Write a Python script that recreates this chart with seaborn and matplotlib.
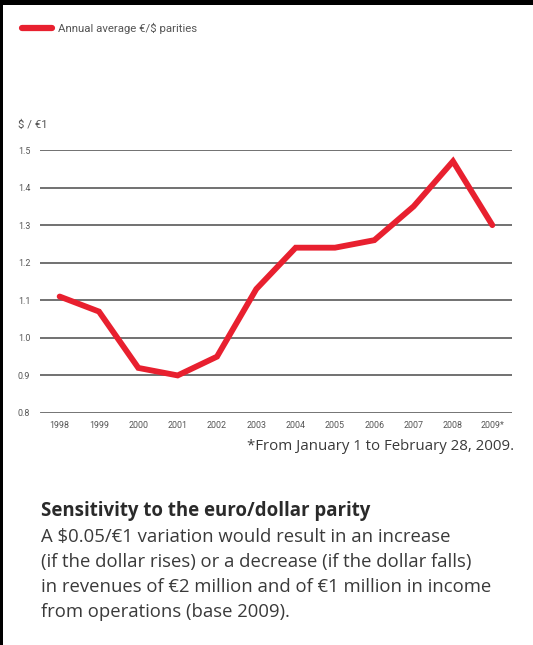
import matplotlib
matplotlib.use("Agg")
import matplotlib.pyplot as plt
import seaborn as sns
import pandas as pd
from matplotlib.patches import Rectangle

years = ["1998", "1999", "2000", "2001", "2002", "2003", "2004", "2005",
         "2006", "2007", "2008", "2009*"]
parity = [1.11, 1.07, 0.92, 0.90, 0.95, 1.13, 1.24, 1.24, 1.26, 1.35, 1.47, 1.30]
y_ticks = [0.8, 0.9, 1.0, 1.1, 1.2, 1.3, 1.4, 1.5]
y_tick_labels = ["0.8", "0.9", "1.0", "1.1", "1.2", "1.3", "1.4", "1.5"]

series_label = "Annual average €/$ parities"
unit_label = "$ / €1"
footnote = "*From January 1 to February 28, 2009."
heading = "Sensitivity to the euro/dollar parity"
body_lines = [
    "A $0.05/€1 variation would result in an increase",
    "(if the dollar rises) or a decrease (if the dollar falls)",
    "in revenues of €2 million and of €1 million in income",
    "from operations (base 2009).",
]

RED = "#e8202f"
GRID = "#4a4a4a"
TEXT = "#3a3a3a"

sns.set_theme(style="white")
plt.rcParams["font.family"] = ["Roboto", "DejaVu Sans"]
BLOCK_FONT = ["Open Sans", "DejaVu Sans"]

df = pd.DataFrame({"year": years, "parity": parity})
df["pos"] = range(len(years))

fig = plt.figure(figsize=(5.33, 6.45), dpi=100)
ax = fig.add_axes([0.075, 1 - 413 / 645, 0.9606 - 0.075, (413 - 150) / 645])

for yv in y_ticks:
    ax.axhline(yv, color=GRID, lw=1.8 if yv == y_ticks[0] else 1.1, zorder=1)

sns.lineplot(data=df, x="pos", y="parity", color=RED, lw=4.2, ax=ax,
             zorder=3, solid_capstyle="round", solid_joinstyle="miter")

ax.set_xlim(-0.5, len(years) - 0.5)
ax.set_ylim(0.8, 1.5)
ax.set_xticks(df["pos"])
ax.set_xticklabels(years)
ax.set_yticks(y_ticks)
ax.set_yticklabels(y_tick_labels)
ax.tick_params(axis="both", length=0, labelsize=6.4, labelcolor="#555555")
ax.tick_params(axis="x", pad=6)
ax.tick_params(axis="y", pad=7)
ax.set_xlabel("")
ax.set_ylabel("")
for s in ax.spines.values():
    s.set_visible(False)
ax.grid(False)

# unit label above the axis
fig.text(18 / 533, 1 - 125 / 645, unit_label, fontsize=8.2, color="#555555",
         va="center", ha="left")

# legend swatch and label
fig.add_artist(plt.Line2D([22 / 533, 52 / 533], [1 - 28 / 645] * 2,
                          color=RED, lw=4.5, solid_capstyle="round"))
fig.text(58 / 533, 1 - 28 / 645, series_label, fontsize=8.2, color="#555555",
         va="center", ha="left")

# footnote
fig.text(514 / 533, 1 - 447 / 645, footnote, fontsize=10.8, color=TEXT,
         va="center", ha="right", family=BLOCK_FONT)

# explanatory text block
fig.text(41 / 533, 1 - 511 / 645, heading, fontsize=13.4, color="#2a2a2a",
         fontweight="bold", va="center", ha="left", family=BLOCK_FONT)
for i, line in enumerate(body_lines):
    fig.text(41 / 533, 1 - (537 + 25 * i) / 645, line, fontsize=13.3,
             color=TEXT, va="center", ha="left", family=BLOCK_FONT)

# page edges
fig.add_artist(Rectangle((0, 0), 3 / 533, 1, transform=fig.transFigure,
                         color="black", lw=0))
fig.add_artist(Rectangle((0, 1 - 5 / 645), 1, 5 / 645, transform=fig.transFigure,
                         color="black", lw=0))

fig.savefig("out.png", dpi=100)
